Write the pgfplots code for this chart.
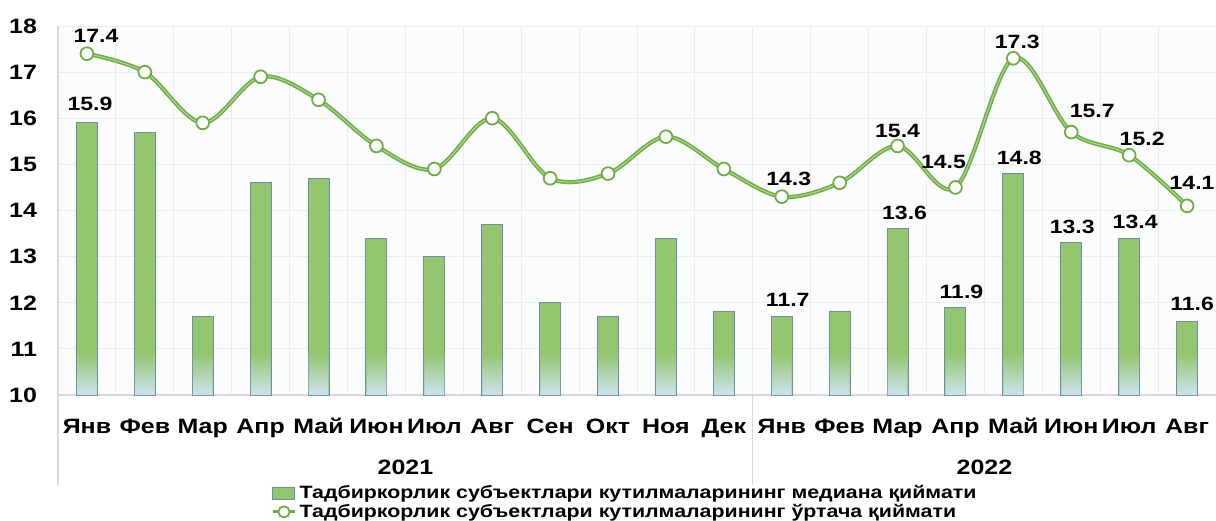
\documentclass[border=0pt]{standalone}
\usepackage{pgfplots}
\pgfplotsset{compat=1.18}
\usepackage{pgfplotstable}
\usepackage{fontspec}
\setmainfont{Liberation Sans}[FakeStretch=1.2]

\definecolor{barGreen}{RGB}{148,198,112}
\definecolor{barBlue}{RGB}{205,226,238}
\definecolor{barEdge}{RGB}{112,140,168}
\definecolor{lineGreen}{RGB}{112,173,71}
\definecolor{lineLight}{RGB}{178,214,150}
\definecolor{gridGray}{RGB}{236,236,236}
\definecolor{sepGray}{RGB}{217,217,217}
\definecolor{bgTint}{RGB}{251,252,254}

% x  median  mean  labels  label offsets (pt)  fade = top of the pale foot of each bar
\pgfplotstableread{
x bar line blab llab bdx bdy ldx ldy fade
0 15.9 17.4 15.9 17.4 1.5 9.5 4.5 9 10.9
1 15.7 17.0 {} {} 0 9.5 0 9 10.9
2 11.7 15.9 {} {} 0 9.5 0 9 10.9
3 14.6 16.9 {} {} 0 9.5 0 9 10.9
4 14.7 16.4 {} {} 0 9.5 0 9 10.9
5 13.4 15.4 {} {} 0 9.5 0 9 10.9
6 13.0 14.9 {} {} 0 9.5 0 9 10.9
7 13.7 16.0 {} {} 0 9.5 0 9 10.9
8 12.0 14.7 {} {} 0 9.5 0 9 10.9
9 11.7 14.8 {} {} 0 9.5 0 9 10.9
10 13.4 15.6 {} {} 0 9.5 0 9 10.9
11 11.8 14.9 {} {} 0 9.5 0 9 10.9
12 11.7 14.3 11.7 14.3 3 8.5 3.5 9 10.9
13 11.8 14.6 {} {} 0 9.5 0 9 10.9
14 13.6 15.4 13.6 15.4 3.5 8 0 7.5 10.9
15 11.9 14.5 11.9 14.5 3 7.5 -6 12.5 10.9
16 14.8 17.3 14.8 17.3 3 8 2 8 10.9
17 13.3 15.7 13.3 15.7 0.5 8 10.5 10.5 10.9
18 13.4 15.2 13.4 15.2 3 8 6.5 8 10.9
19 11.6 14.1 11.6 14.1 2.5 8.5 2.5 11.5 10.9
}\datatable

\begin{document}
\begin{tikzpicture}[font=\fontsize{10.4}{12.5}\selectfont\bfseries]
\useasboundingbox (-29pt,-62.5pt) rectangle (579pt,197.5pt);
\begin{axis}[
    at={(0,0)}, anchor=south west,
    scale only axis,
    width=579pt, height=184.5pt,
    xmin=-0.5, xmax=19.5,
    ymin=10, ymax=18,
    ytick={10,11,...,18},
    xtick={0,...,19},
    xticklabels={Янв,Фев,Мар,Апр,Май,Июн,Июл,Авг,Сен,Окт,Ноя,Дек,Янв,Фев,Мар,Апр,Май,Июн,Июл,Авг},
    minor xtick={-0.5,0.5,...,19.5},
    major tick length=0pt, minor tick length=0pt,
    xminorgrids, ymajorgrids,
    major grid style={gridGray, line width=0.5pt},
    minor grid style={gridGray, line width=0.5pt},
    axis x line*=bottom, axis y line*=left,
    x axis line style={-, draw=sepGray, line width=0.6pt},
    y axis line style={-, draw=sepGray, line width=0.6pt},
    axis background/.style={fill=bgTint},
    /pgf/number format/assume math mode=true,
    yticklabel style={anchor=east, xshift=-7pt},
    xticklabel style={anchor=base, yshift=-19pt},
    clip=false,
    legend cell align=left,
    legend style={draw=none, fill=none, at={(0.49,-0.235)}, anchor=north,
        font=\fontsize{8.9}{9.3}\selectfont\bfseries,
        row sep=-1.8pt, inner sep=0pt,
        nodes={inner sep=1.5pt}},
]
% median bars
\addplot[ybar, bar width=10.5pt, bar shift=0pt, fill=barGreen, draw=barEdge, line width=0.5pt,
    point meta=explicit symbolic,
    visualization depends on={\thisrow{bdx} \as \bdx},
    visualization depends on={\thisrow{bdy} \as \bdy},
    nodes near coords,
    every node near coord/.append style={anchor=center, inner sep=0pt, xshift=\bdx pt, yshift=\bdy pt,
        text=black, font=\fontsize{9.6}{11}\selectfont\bfseries},
    legend image code/.code={\draw[fill=barGreen, draw=barEdge, line width=0.5pt] (0pt,-3pt) rectangle (11pt,3pt);}
] table[x=x, y=bar, meta=blab] {\datatable};
\addlegendentry{Тадбиркорлик субъектлари кутилмаларининг медиана қиймати}
% pale foot of the bars
\addplot[ybar, bar width=9.9pt, bar shift=0pt, draw=none, shade, bottom color=barBlue, top color=barGreen, forget plot]
    table[x=x, y=fade] {\datatable};

% mean line
\addplot[smooth, tension=0.55, draw=lineGreen, line width=0.8pt, double=lineLight, double distance=0.5pt, forget plot]
    table[x=x, y=line] {\datatable};
\addplot[only marks, mark=*, mark size=3.2pt, mark options={fill=white, draw=lineGreen, line width=0.9pt},
    point meta=explicit symbolic,
    visualization depends on={\thisrow{ldx} \as \ldx},
    visualization depends on={\thisrow{ldy} \as \ldy},
    nodes near coords,
    every node near coord/.append style={anchor=center, inner sep=0pt, xshift=\ldx pt, yshift=\ldy pt,
        text=black, font=\fontsize{9.6}{11}\selectfont\bfseries},
    legend image code/.code={\draw[lineGreen, line width=1.6pt] (0pt,0pt) -- (11pt,0pt);
        \draw[lineGreen, fill=white, line width=0.9pt] (5.5pt,0pt) circle (2.8pt);}
] table[x=x, y=line, meta=llab] {\datatable};
\addlegendentry{Тадбиркорлик субъектлари кутилмаларининг ўртача қиймати}

% year groups
\draw[sepGray, line width=0.6pt] (axis cs:-0.5,10) -- ++(0pt,-45pt);
\draw[sepGray, line width=0.6pt] (axis cs:11.5,10) -- ++(0pt,-45pt);
\node[anchor=base] at ([yshift=-39.5pt]axis cs:5.5,10) {2021};
\node[anchor=base] at ([yshift=-39.5pt]axis cs:15.5,10) {2022};
\end{axis}
\end{tikzpicture}
\end{document}
